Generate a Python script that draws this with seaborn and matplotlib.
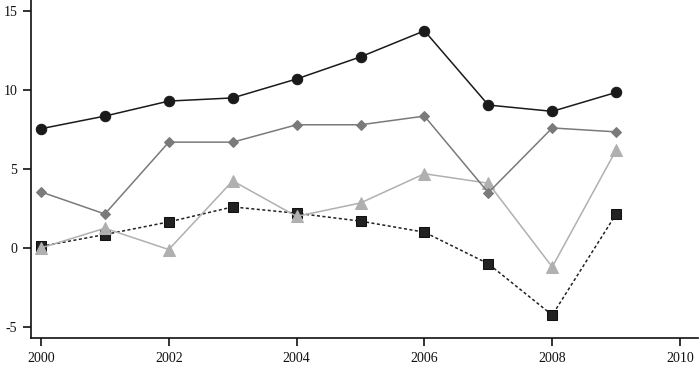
import matplotlib
matplotlib.use("Agg")
import matplotlib.pyplot as plt
import seaborn as sns
import pandas as pd

years = [2000, 2001, 2002, 2003, 2004, 2005, 2006, 2007, 2008, 2009]
circles = [7.55, 8.35, 9.3, 9.5, 10.7, 12.1, 13.75, 9.05, 8.65, 9.85]
diamonds = [3.55, 2.15, 6.7, 6.7, 7.8, 7.8, 8.35, 3.5, 7.6, 7.35]
triangles = [0.0, 1.25, -0.1, 4.25, 2.0, 2.85, 4.7, 4.1, -1.2, 6.2]
squares = [0.1, 0.85, 1.65, 2.6, 2.2, 1.7, 1.0, -1.0, -4.25, 2.15]

xticks = [2000, 2002, 2004, 2006, 2008, 2010]
yticks = [-5, 0, 5, 10, 15]

sns.set_style("ticks")
plt.rcParams['font.family'] = ['Liberation Serif', 'DejaVu Serif']

fig = plt.figure(figsize=(7.0, 3.68), dpi=100)
ax = fig.add_axes([31/700, 1-338/368, 1-31/700-2/700, 338/368])

df_sq = pd.DataFrame({"x": years, "y": squares})
df_tr = pd.DataFrame({"x": years, "y": triangles})
df_di = pd.DataFrame({"x": years, "y": diamonds})
df_ci = pd.DataFrame({"x": years, "y": circles})

sns.lineplot(data=df_sq, x="x", y="y", ax=ax, color="#222222", lw=1.1,
             linestyle=(0, (2, 1.6)), marker="s", markersize=7,
             markeredgecolor="#111111", markerfacecolor="#222222")
sns.lineplot(data=df_tr, x="x", y="y", ax=ax, color="#b0b0b0", lw=1.1,
             marker="^", markersize=8, markeredgecolor="#b0b0b0",
             markerfacecolor="#b0b0b0")
sns.lineplot(data=df_di, x="x", y="y", ax=ax, color="#7a7a7a", lw=1.1,
             marker="D", markersize=5, markeredgecolor="#7a7a7a",
             markerfacecolor="#7a7a7a")
sns.lineplot(data=df_ci, x="x", y="y", ax=ax, color="#1a1a1a", lw=1.1,
             marker="o", markersize=7.5, markeredgecolor="#1a1a1a",
             markerfacecolor="#1a1a1a")

ax.set_xlim(2000 - 10/64.1, 2010 + 18/64.1)
ax.set_ylim(-5.7, 15.7)
ax.set_xticks(xticks)
ax.set_xticklabels([str(t) for t in xticks])
ax.set_yticks(yticks)
ax.set_yticklabels([str(t) for t in yticks])
ax.set_xlabel("")
ax.set_ylabel("")
for s in ["top", "right"]:
    ax.spines[s].set_visible(False)
for s in ["left", "bottom"]:
    ax.spines[s].set_color("#111111")
    ax.spines[s].set_linewidth(1.2)
ax.tick_params(axis="both", direction="out", length=6, width=1.2,
               color="#111111", labelsize=10, labelcolor="#111111", pad=4)

fig.savefig("out.png", dpi=100)
